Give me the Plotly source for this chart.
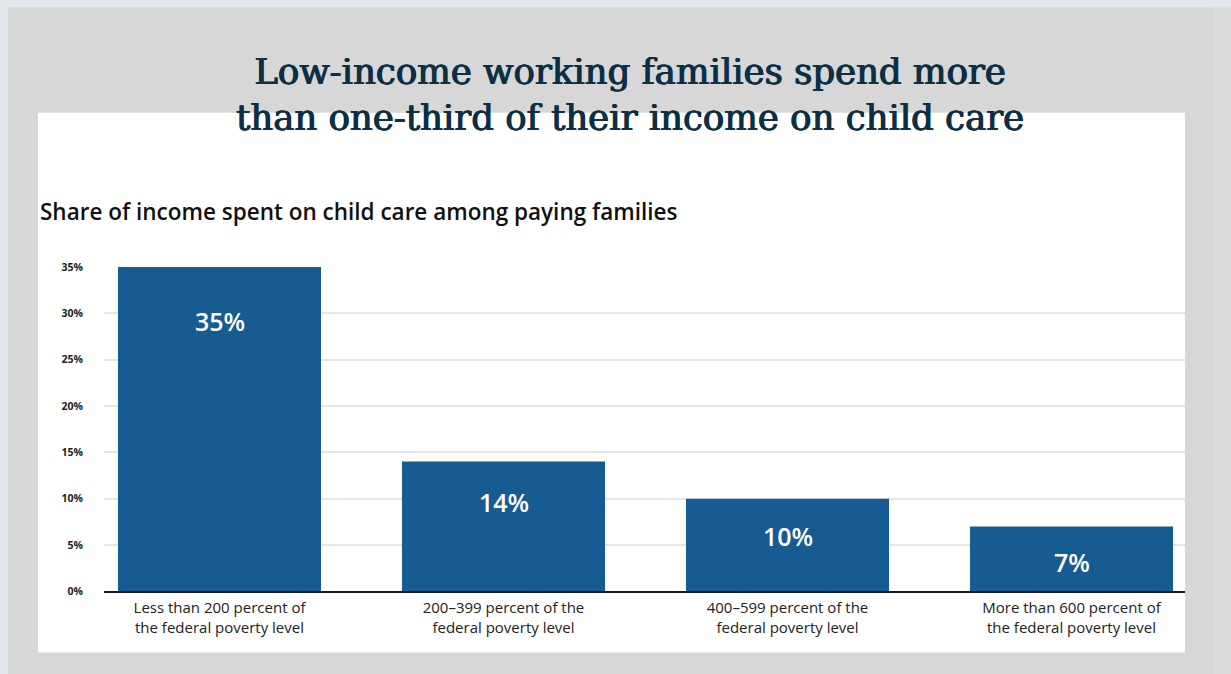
import plotly.graph_objects as go

categories = [
    "Less than 200 percent of<br>the federal poverty level",
    "200–399 percent of the<br>federal poverty level",
    "400–599 percent of the<br>federal poverty level",
    "More than 600 percent of<br>the federal poverty level",
]
values = [35, 14, 10, 7]
value_labels = ["35%", "14%", "10%", "7%"]
y_ticks = [0, 5, 10, 15, 20, 25, 30, 35]
y_tick_labels = ["0%", "5%", "10%", "15%", "20%", "25%", "30%", "35%"]

title_text = "Low-income working families spend more<br>than one-third of their income on child care"
subtitle_text = "Share of income spent on child care among paying families"

W, H = 1231, 674
BAR = "#175b93"
TITLE_C = "#0c2f45"

# screen -> figure mapping (vertical offset/scale observed in the viewer)
OFF_Y, SC_Y = 7.5, 0.9777


def px(x):
    return x / W


def py(y):
    return 1 - ((y - OFF_Y) / SC_Y) / H


fig = go.Figure()
fig.add_trace(go.Bar(
    x=categories, y=values,
    marker=dict(color=BAR, line=dict(width=0)),
    hoverinfo="skip",
))

for c, v, t in zip(categories, values, value_labels):
    fig.add_annotation(
        x=c, y=v, xref="x", yref="y", text=t, showarrow=False,
        yanchor="middle", yshift=-(30 + 0.65 * v) / SC_Y,
        font=dict(family="Open Sans", size=25, color="white", weight=600),
    )

shapes = [
    dict(type="rect", xref="paper", yref="paper", x0=0, x1=px(8), y0=-0.1, y1=1.1,
         fillcolor="#e3e6eb", line=dict(width=0), layer="below"),
    dict(type="rect", xref="paper", yref="paper", x0=0, x1=1, y0=py(8), y1=1.1,
         fillcolor="#e3e6eb", line=dict(width=0), layer="below"),
    dict(type="rect", xref="paper", yref="paper", x0=px(1213), x1=1, y0=-0.1, y1=py(8),
         fillcolor="#dcdcdc", line=dict(width=0), layer="below"),
    dict(type="rect", xref="paper", yref="paper", x0=px(38), x1=px(1185), y0=py(652), y1=py(113),
         fillcolor="white", line=dict(width=0), layer="below"),
]

fig.add_annotation(
    x=px(630), y=py(95), xref="paper", yref="paper", text=title_text,
    showarrow=False, xanchor="center", yanchor="middle", align="center",
    font=dict(family="DejaVu Serif", size=35.5, color=TITLE_C,
              shadow=f"0.7px 0 0 {TITLE_C}, -0.5px 0 0 {TITLE_C}"),
)
fig.add_annotation(
    x=px(38), y=py(212), xref="paper", yref="paper", text=subtitle_text,
    showarrow=False, xanchor="left", yanchor="middle", align="left",
    font=dict(family="Open Sans", size=22.5, color="#111111", weight=600),
)

step = 284.0
x0_units = -115.5 / step
x1_units = x0_units + (1185 - 104) / step

fig.update_layout(
    width=W, height=H,
    margin=dict(l=0, r=0, t=0, b=0),
    paper_bgcolor="#d7d7d7",
    plot_bgcolor="rgba(0,0,0,0)",
    shapes=shapes,
    showlegend=False,
    bargap=0.285,
    xaxis=dict(
        domain=[px(104), px(1185)],
        range=[x0_units, x1_units],
        showline=True, linecolor="#1a1a1a", linewidth=2,
        showgrid=False, ticks="",
        ticklabelstandoff=2,
        tickfont=dict(family="Open Sans", size=15, color="#222222"),
        fixedrange=True,
    ),
    yaxis=dict(
        domain=[py(591), py(267)],
        range=[0, 35],
        tickvals=y_ticks, ticktext=y_tick_labels,
        showgrid=True, gridcolor="#e6e6e6", gridwidth=1.5,
        zeroline=False, showline=False, ticks="",
        ticklabelstandoff=20,
        tickfont=dict(family="Open Sans", size=10.5, color="#222222", weight=700),
        fixedrange=True,
    ),
)

fig.write_html("out.html")
